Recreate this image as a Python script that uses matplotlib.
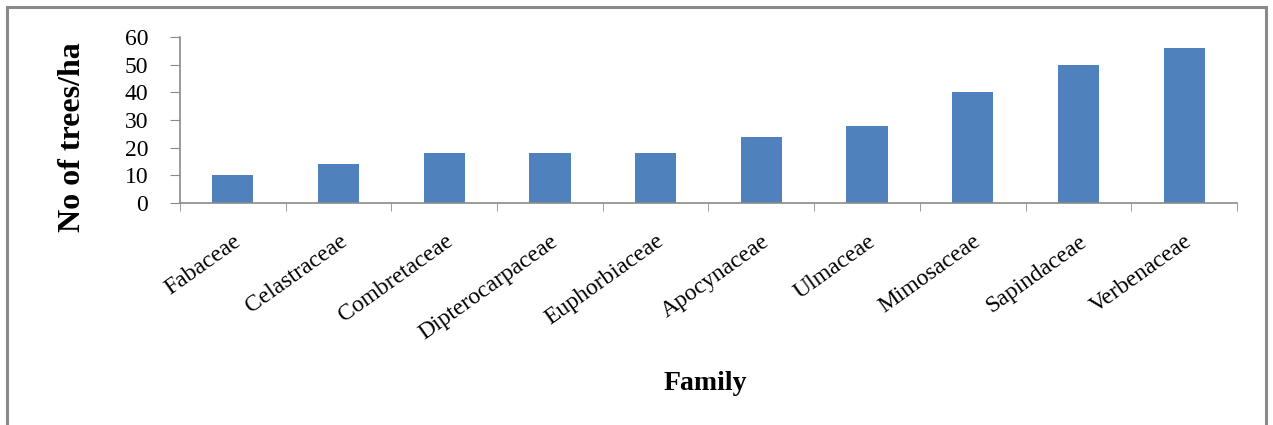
import matplotlib
matplotlib.use("Agg")
import matplotlib.pyplot as plt
from matplotlib.patches import Rectangle

# -----------------------------
# Data
# -----------------------------

families = ["Fabaceae", "Celastraceae", "Combretaceae", "Dipterocarpaceae",
            "Euphorbiaceae", "Apocynaceae", "Ulmaceae", "Mimosaceae",
            "Sapindaceae", "Verbenaceae"]
trees_per_ha = [10, 14, 18, 18, 18, 24, 28, 40, 50, 56]
y_ticks = [0, 10, 20, 30, 40, 50, 60]

# -----------------------------
# Figure
# -----------------------------

plt.rcParams["font.family"] = ["Liberation Serif", "DejaVu Serif"]

fig = plt.figure(figsize=(12.73, 4.25), dpi=100)
ax = fig.add_axes([0.1414, 0.5224, 0.8303, 0.3905])

# outer frame (cut off at the bottom like the source)
fig.patches.append(Rectangle((7 / 1273, -0.05), 1259 / 1273, 1.05 - 7 / 425,
                             transform=fig.transFigure, fill=False,
                             edgecolor="#8a8a8a", linewidth=2.2))

x = list(range(len(families)))
ax.bar(x, trees_per_ha, width=0.39, color="#4F81BD")

ax.set_xlim(-0.5, len(families) - 0.5)
ax.set_ylim(0, 60)
ax.set_yticks(y_ticks)
ax.set_yticklabels([str(v) for v in y_ticks], fontsize=17)

ax.set_xticks(x)
ax.set_xticklabels(families, rotation=35.5, ha="right", rotation_mode="anchor",
                   fontsize=17)
ax.tick_params(axis="x", length=0, pad=20)
ax.set_xticks([i - 0.5 for i in range(len(families) + 1)], minor=True)
ax.tick_params(axis="x", which="minor", length=6, color="#8a8a8a")
ax.tick_params(axis="y", length=7, color="#8a8a8a", pad=16)

for side in ["top", "right"]:
    ax.spines[side].set_visible(False)
for side in ["left", "bottom"]:
    ax.spines[side].set_color("#8a8a8a")
    ax.spines[side].set_linewidth(1.2)

fig.text(72 / 1273, 1 - 137 / 425, "No of trees/ha", fontsize=23,
         fontweight="bold", rotation=90, ha="center", va="center")
fig.text(705 / 1273, 1 - 383 / 425, "Family", fontsize=20, fontweight="bold",
         ha="center", va="center")

fig.savefig("out.png", dpi=100)
plt.close(fig)
